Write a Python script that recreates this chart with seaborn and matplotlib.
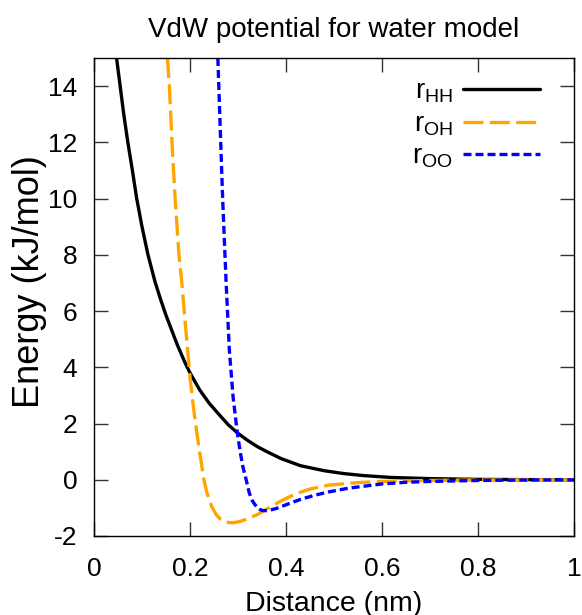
import numpy as np
import pandas as pd
import matplotlib
matplotlib.use("Agg")
import matplotlib.pyplot as plt
import seaborn as sns

sns.set_style("ticks")
plt.rcParams['font.family'] = ['Liberation Sans', 'DejaVu Sans']
plt.rcParams['mathtext.fontset'] = 'custom'
plt.rcParams['mathtext.rm'] = 'Liberation Sans'
plt.rcParams['mathtext.it'] = 'Liberation Sans'
plt.rcParams['text.color'] = 'black'
plt.rcParams['axes.labelcolor'] = 'black'
plt.rcParams['xtick.color'] = 'black'
plt.rcParams['ytick.color'] = 'black'

# values
hh_x = [0.047, 0.0545, 0.062, 0.0705, 0.080, 0.089, 0.100, 0.1125, 0.127,
        0.139, 0.150, 0.1735, 0.19, 0.20, 0.22, 0.24, 0.26, 0.28, 0.30, 0.32,
        0.34, 0.36, 0.39, 0.43, 0.48, 0.52, 0.56, 0.62, 0.7, 0.8, 0.9, 1.0]
hh_y = [15.0, 14.0, 13.0, 12.0, 11.0, 10.0, 9.0, 8.0, 7.05,
        6.4, 5.85, 4.8, 4.15, 3.8, 3.2, 2.72, 2.33, 1.95, 1.65, 1.4,
        1.18, 1.0, 0.75, 0.5, 0.32, 0.22, 0.15, 0.08, 0.04, 0.013, 0.004, 0.001]

oh_x = [0.153, 0.157, 0.1625, 0.169, 0.177, 0.183, 0.19, 0.2, 0.207, 0.214, 0.22,
        0.229, 0.235, 0.245, 0.255, 0.262, 0.27, 0.28, 0.29, 0.305, 0.32, 0.34,
        0.36, 0.39, 0.42, 0.45, 0.49, 0.55, 0.6, 0.7, 0.8, 0.9, 1.0]
oh_y = [15.0, 14.0, 12.0, 10.0, 8.0, 7.0, 5.6, 3.65, 2.6, 1.7, 1.0,
        0.0, -0.45, -0.95, -1.25, -1.38, -1.47, -1.52, -1.53, -1.48, -1.39, -1.24,
        -1.04, -0.75, -0.5, -0.33, -0.19, -0.1, -0.06, -0.025, -0.01, -0.005, -0.002]

oo_x = [0.258, 0.262, 0.268, 0.275, 0.282, 0.29, 0.2986, 0.305, 0.31, 0.317,
        0.3236, 0.33, 0.335, 0.34, 0.345, 0.35, 0.355, 0.365, 0.38, 0.4, 0.43,
        0.46, 0.49, 0.53, 0.6, 0.65, 0.7, 0.8, 0.9, 1.0]
oo_y = [15.0, 13.0, 10.0, 7.1, 4.6, 2.9, 1.67, 0.95, 0.475, 0.0,
        -0.475, -0.75, -0.88, -0.98, -1.05, -1.09, -1.1, -1.09, -1.02, -0.89, -0.7,
        -0.55, -0.43, -0.3, -0.15, -0.09, -0.06, -0.025, -0.01, -0.005]

labels = [r"r$_{\mathrm{HH}}$", r"r$_{\mathrm{OH}}$", r"r$_{\mathrm{OO}}$"]
colors = ["black", "#FFA500", "#0000FF"]
dashes = [None, (6.0, 1.9), (2.4, 1.2)]

fig, ax = plt.subplots(figsize=(5.82, 6.15), dpi=100)
fig.subplots_adjust(left=0.1615, right=0.9863, top=0.9057, bottom=0.1285)

series = [(hh_x, hh_y), (oh_x, oh_y), (oo_x, oo_y)]
for (xs, ys), lab, col, ds in zip(series, labels, colors, dashes):
    df = pd.DataFrame({"x": xs, "y": ys})
    sns.lineplot(data=df, x="x", y="y", ax=ax, color=col, label=lab,
                 linewidth=2.4)
    l = ax.get_lines()[-1]
    if ds is not None:
        l.set_dashes(ds)

ax.set_xlim(0, 1)
ax.set_ylim(-2, 15)
ax.set_xticks([0, 0.2, 0.4, 0.6, 0.8, 1.0])
ax.set_xticklabels(["0", "0.2", "0.4", "0.6", "0.8", "1"])
ax.set_yticks(np.arange(-2, 15, 2))
ax.set_yticklabels([str(v) for v in range(-2, 15, 2)])
ax.tick_params(direction="in", length=10, width=1, color="#333333",
               labelsize=19, top=True, right=True)
ax.tick_params(axis="y", pad=12)
ax.tick_params(axis="x", pad=15)
for s in ax.spines.values():
    s.set_linewidth(1.0)
    s.set_color("black")

ax.set_title("VdW potential for water model", fontsize=20, pad=15)
ax.set_xlabel("Distance (nm)", fontsize=20.5, labelpad=7)
ax.set_ylabel("Energy (kJ/mol)", fontsize=26)
ax.yaxis.set_label_coords(-0.098, 0.533)

ax.legend(loc="upper right", frameon=False, markerfirst=False, fontsize=20,
          handlelength=2.77, handletextpad=0.36, labelspacing=0.22,
          borderaxespad=0.0, bbox_to_anchor=(0.952, 0.98))

fig.savefig("out.png", dpi=100)
